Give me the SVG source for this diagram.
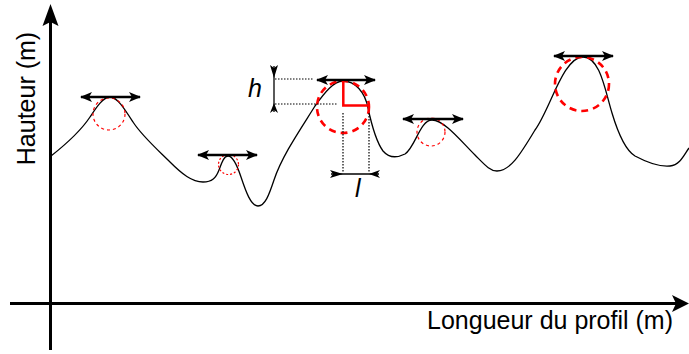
<svg xmlns="http://www.w3.org/2000/svg" width="689" height="354" viewBox="0 0 689 354">
<style>
.axis{stroke:#000;stroke-width:3;fill:none}
.curve{stroke:#000;stroke-width:1.3;fill:none;stroke-linejoin:round}
.dbl{stroke:#000;stroke-width:2.5;fill:none;marker-start:url(#ah);marker-end:url(#ah)}
.bigc{stroke:#f00;stroke-width:2.6;fill:none;stroke-dasharray:7,5}
.smc{stroke:#f00;stroke-width:1.2;fill:none;stroke-dasharray:3,3}
.dot{stroke:#000;stroke-width:1.2;fill:none;stroke-dasharray:1.5,1.5}
.dim{stroke:#000;stroke-width:1.3;fill:none}
.head{fill:#000;stroke:none}
.lbl{font-family:"Liberation Sans",Arial,sans-serif;font-size:25px;fill:#000}
.it{font-style:italic}
</style>
<defs>
<marker id="ah" viewBox="0 0 12 10" refX="11" refY="5" markerWidth="12" markerHeight="10" markerUnits="userSpaceOnUse" orient="auto-start-reverse">
<path d="M0,0 L12,5 L0,10 L3,5 Z" fill="#000"/>
</marker>
</defs>
<g id="axes">
<line class="axis" x1="50.5" y1="350" x2="50.5" y2="20"/>
<path class="head" d="M50.5,4 L58.5,26 L50.5,22 L42.5,26 Z"/>
<line class="axis" x1="10" y1="303.5" x2="676" y2="303.5"/>
<path class="head" d="M689,303.5 L672,295 L676,303.5 L672,312 Z"/>
<text class="lbl" transform="translate(35,98.5) rotate(-90)" text-anchor="middle">Hauteur (m)</text>
<text class="lbl" x="673" y="328.5" text-anchor="end">Longueur du profil (m)</text>
</g>
<g id="profile">
<path class="curve" d="M51,156 C65,145 80,132 90,117 C96,108 103,97 110,97 C117,97 124,108 133,122 C142,136 158,150 170,162 C182,174 192,182 203,182 C212,182 216,178 219,170 C222,162 224,156 228,156 C233,156 237,165 241,177 C246,192 251,206 258,206 C265,206 269,195 274,180 C282,156 300,130 315,106 C325,92 334,81 343,81 C355,81 365,92 368,108 C371,122 375,140 383,151 C389,158 397,158 405,154 C415,148 420,120 432,120 C444,120 460,140 475,155 C485,165 490,171 497,171 C510,171 520,155 535,130 C550,110 563,57 583,57 C600,57 605,90 612,113 C618,133 625,150 635,156 C650,164 660,167 670,166 C680,165 684,155 689,148"/>
</g>
<g id="circles">
<circle class="smc" cx="109" cy="114" r="16"/>
<circle class="smc" cx="228.5" cy="164.5" r="10" style="stroke-dasharray:2,2"/>
<circle class="bigc" cx="343" cy="107" r="26"/>
<circle class="smc" cx="431" cy="132" r="14"/>
<circle class="bigc" cx="582" cy="84" r="27"/>
</g>
<g id="widths">
<line class="dbl" x1="81" y1="97" x2="140" y2="97"/>
<line class="dbl" x1="198" y1="155" x2="257" y2="155"/>
<line class="dbl" x1="317" y1="80" x2="375" y2="80"/>
<line class="dbl" x1="403" y1="119" x2="463" y2="119"/>
<line class="dbl" x1="554" y1="56" x2="613" y2="56"/>
</g>
<g id="detail">
<path d="M343.3,81 V105.5 H369" stroke="#f00" stroke-width="2.5" fill="none"/>
<line class="dot" x1="275" y1="79" x2="313" y2="79"/>
<line class="dot" x1="275" y1="104" x2="337" y2="104"/>
<line class="dot" x1="343" y1="113" x2="343" y2="172"/>
<line class="dot" x1="369" y1="113" x2="369" y2="172"/>
<line class="dim" x1="274" y1="66" x2="274" y2="112"/>
<path class="head" d="M270,65 L274,78 L278,65 L274,68 Z"/>
<path class="head" d="M270,113 L274,103 L278,113 L274,110 Z"/>
<line class="dim" x1="331" y1="174" x2="379" y2="174"/>
<path class="head" d="M330,170 L343,174 L330,178 L333,174 Z"/>
<path class="head" d="M380,170 L369,174 L380,178 L377,174 Z"/>
<text class="lbl it" x="248" y="97">h</text>
<text class="lbl it" x="355" y="197">l</text>
</g>
</svg>
